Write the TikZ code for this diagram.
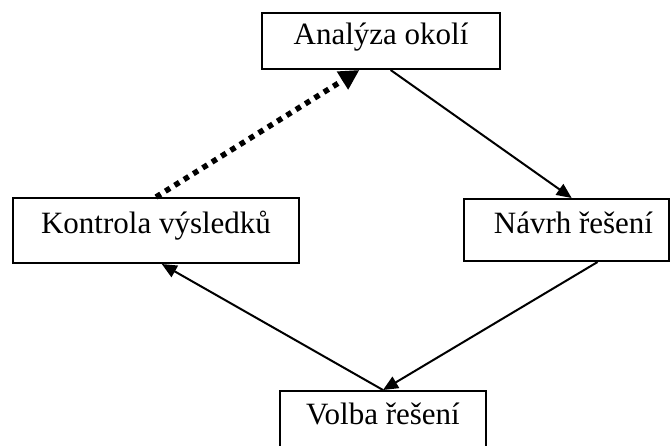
\documentclass[tikz,border=0pt]{standalone}
\usepackage{fontspec}
\setmainfont{Liberation Serif}
\usetikzlibrary{arrows.meta,calc}
\begin{document}
\begin{tikzpicture}[x=1pt,y=-1pt,
  box/.style={draw,line width=2pt,rectangle,inner sep=0pt,
    font=\fontsize{31}{37}\selectfont,text height=0.66em,text depth=0pt},
  link/.style={line width=2pt,-{Triangle[length=15pt,width=13pt]}},
  back/.style={line width=5.5pt,dash pattern=on 5.5pt off 5.5pt,
    -{Triangle[length=20pt,width=20pt]}}]
\useasboundingbox (0,0) rectangle (671,445);
\clip (0,0) rectangle (671,445);
\node[box,minimum width=238pt,minimum height=56pt] (ana) at (381,41) {Analýza okolí};
\node[box,minimum width=286pt,minimum height=65pt] (kon) at (156,230.5) {Kontrola výsledků};
\node[box,minimum width=205pt,minimum height=62pt] (nav) at (566.5,230) {\hspace*{14pt}Návrh řešení};
\node[box,minimum width=206pt,minimum height=60pt] (vol) at (383,421) {Volba řešení};
\draw[back] (kon.north) -- ($(ana.south west)!0.41!(ana.south east)$);
\draw[link] ($(ana.south west)!0.54!(ana.south east)$) -- ($(nav.north west)!0.525!(nav.north east)$);
\draw[link] ($(nav.south west)!0.65!(nav.south east)$) -- (vol.north);
\draw[link] (vol.north) -- ($(kon.south west)!0.52!(kon.south east)$);
\end{tikzpicture}
\end{document}
